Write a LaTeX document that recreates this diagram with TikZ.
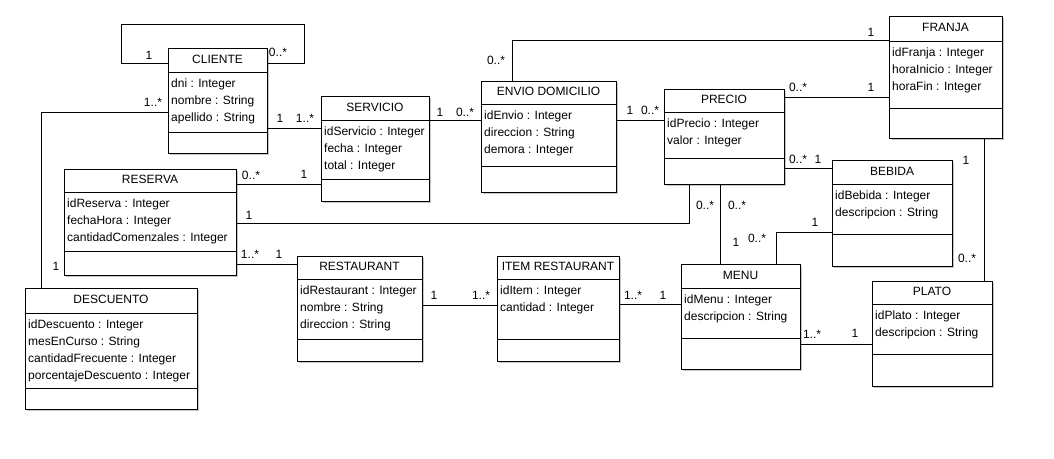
\documentclass[tikz,border=0pt]{standalone}
\usepackage{fontspec}
\setmainfont{Liberation Sans}
\usetikzlibrary{fit}
\tikzset{
  x=1pt, y=-1pt,
  classbox/.style={draw, line width=1pt, inner sep=0pt, fill=white},
  boxshade/.style={fill=black!22},
  txt/.style={font=\fontsize{12}{14}\selectfont, inner sep=0pt},
  attr/.style={txt, anchor=base west},
  mult/.style={txt},
  assoc/.style={line width=1pt},
}
% #1 name, #2 x1, #3 y1, #4 x2, #5 y2, #6 first divider, #7 second divider, #8 title, #9 attributes
\newcommand\umlclass[9]{%
  \fill[boxshade] (#2+2,#3+2) rectangle (#4+2,#5+2);
  \node[classbox, fit={(#2,#3) (#4,#5)}] (#1) {};
  \draw[assoc] (#1.west |- 0,#6) -- (#1.east |- 0,#6);
  \draw[assoc] (#1.west |- 0,#7) -- (#1.east |- 0,#7);
  \node[txt] at ({(#2+#4)/2},{(#3+#6)/2-1}) {#8};
  \foreach \a [count=\i] in {#9} {
    \node[attr] at (#2+3,{#6-2+17*\i}) {\a};
  }%
}
\begin{document}
\begin{tikzpicture}
\useasboundingbox (0,0) rectangle (1054,458);
\fill[white] (0,0) rectangle (1054,458);

\umlclass{cliente}{168}{48}{267}{153}{72}{132}{CLIENTE}{dni : Integer, nombre : String, apellido : String}
\umlclass{servicio}{321}{96}{429}{201}{120}{179}{SERVICIO}{idServicio : Integer, fecha : Integer, total : Integer}
\umlclass{envio}{481}{81}{616}{192}{104}{166}{ENVIO DOMICILIO}{idEnvio : Integer, direccion : String, demora : Integer}
\umlclass{precio}{664}{89}{784}{184}{112}{158}{PRECIO}{idPrecio : Integer, valor : Integer}
\umlclass{franja}{889}{16}{1002}{138}{41}{108}{FRANJA}{idFranja : Integer, horaInicio : Integer, horaFin : Integer}
\umlclass{bebida}{832}{160}{952}{266}{184}{234}{BEBIDA}{idBebida : Integer, descripcion : String}
\umlclass{reserva}{64}{169}{236}{275}{192}{251}{RESERVA}{idReserva : Integer, fechaHora : Integer, cantidadComenzales : Integer}
\umlclass{descuento}{25}{288}{197}{409}{313}{388}{DESCUENTO}{idDescuento : Integer, mesEnCurso : String, cantidadFrecuente : Integer, porcentajeDescuento : Integer}
\umlclass{restaurant}{297}{256}{422}{361}{279}{339}{RESTAURANT}{idRestaurant : Integer, nombre : String, direccion : String}
\umlclass{item}{497}{256}{619}{361}{279}{339}{ITEM RESTAURANT}{idItem : Integer, cantidad : Integer}
\umlclass{menu}{681}{264}{800}{369}{288}{338}{MENU}{idMenu : Integer, descripcion : String}
\umlclass{plato}{872}{281}{992}{386}{304}{354}{PLATO}{idPlato : Integer, descripcion : String}

% connectors
\draw[assoc] (cliente.west |- 0,63) -| (121,24) -| (304,63) -- (cliente.east |- 0,63);
\draw[assoc] (cliente.east |- 0,128) -- (servicio.west |- 0,128);
\draw[assoc] (cliente.west |- 0,112) -| (descuento.north -| 41,0);
\draw[assoc] (servicio.east |- 0,120) -- (envio.west |- 0,120);
\draw[assoc] (envio.east |- 0,120) -- (precio.west |- 0,120);
\draw[assoc] (envio.north -| 512,0) |- (franja.west |- 0,40);
\draw[assoc] (precio.east |- 0,97) -- (franja.west |- 0,97);
\draw[assoc] (precio.east |- 0,168) -- (bebida.west |- 0,168);
\draw[assoc] (precio.south -| 689,0) |- (reserva.east |- 0,223);
\draw[assoc] (precio.south -| 720,0) -- (menu.north -| 720,0);
\draw[assoc] (reserva.east |- 0,184) -- (servicio.west |- 0,184);
\draw[assoc] (reserva.east |- 0,264) -- (restaurant.west |- 0,264);
\draw[assoc] (restaurant.east |- 0,305) -- (item.west |- 0,305);
\draw[assoc] (item.east |- 0,304) -- (menu.west |- 0,304);
\draw[assoc] (bebida.west |- 0,232) -| (menu.north -| 776,0);
\draw[assoc] (menu.east |- 0,344) -- (plato.west |- 0,344);
\draw[assoc] (franja.south -| 984,0) -- (plato.north -| 984,0);

% multiplicities
\node[mult] at (149,55) {1};
\node[mult] at (278,52) {0..*};
\node[mult] at (280,118) {1};
\node[mult] at (305,118) {1..*};
\node[mult] at (153,102) {1..*};
\node[mult] at (56,266) {1};
\node[mult] at (440,112) {1};
\node[mult] at (465,112) {0..*};
\node[mult] at (630,110) {1};
\node[mult] at (650,110) {0..*};
\node[mult] at (496,60) {0..*};
\node[mult] at (871,32) {1};
\node[mult] at (798,87) {0..*};
\node[mult] at (871,87) {1};
\node[mult] at (798,159) {0..*};
\node[mult] at (818,159) {1};
\node[mult] at (966,160) {1};
\node[mult] at (967,258) {0..*};
\node[mult] at (815,222) {1};
\node[mult] at (757,238) {0..*};
\node[mult] at (737,205) {0..*};
\node[mult] at (736,242) {1};
\node[mult] at (705,205) {0..*};
\node[mult] at (249,215) {1};
\node[mult] at (251,175) {0..*};
\node[mult] at (304,174) {1};
\node[mult] at (250,254) {1..*};
\node[mult] at (279,254) {1};
\node[mult] at (434,295) {1};
\node[mult] at (481,295) {1..*};
\node[mult] at (633,295) {1..*};
\node[mult] at (663,295) {1};
\node[mult] at (812,334) {1..*};
\node[mult] at (855,333) {1};
\end{tikzpicture}
\end{document}
